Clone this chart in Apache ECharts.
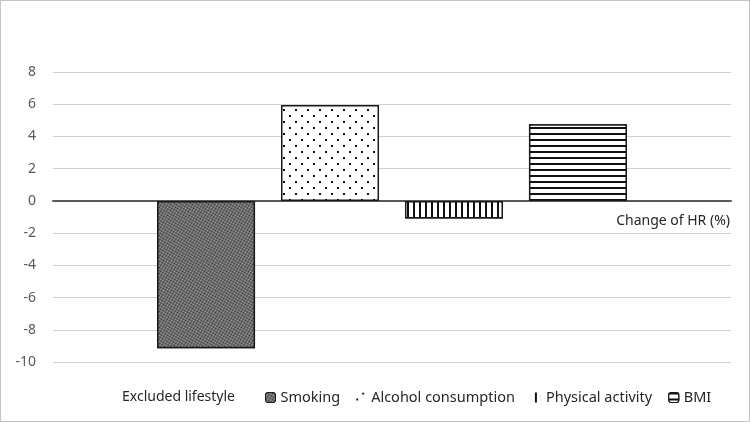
<!DOCTYPE html>
<html><head><meta charset="utf-8">
<script src="https://cdn.jsdelivr.net/npm/echarts@6/dist/echarts.min.js"></script>
<style>
html,body{margin:0;padding:0;background:#fff;}
#c{width:750px;height:422px;box-sizing:border-box;border:1.5px solid #c4c4c4;}
</style></head>
<body><div id="c"></div>
<script>
const categories = ['Change of HR (%)'];
const seriesNames = ['Smoking', 'Alcohol consumption', 'Physical activity', 'BMI'];
const smoking = [-9.15];
const alcohol = [5.95];
const physical = [-1.1];
const bmi = [4.75];
const yTicks = {min: -10, max: 8, interval: 2};
const legendTitle = 'Excluded lifestyle';

const font = "'Noto Sans',sans-serif";
const chart = echarts.init(document.getElementById('c'), null, {renderer: 'canvas'});
const border = {borderColor: '#1a1a1a', borderWidth: 1.5};
const decals = [
  {symbol: 'rect', symbolSize: 1, dashArrayX: [[1, 1], [0, 1, 1, 0]], dashArrayY: [1, 0], color: '#303030', backgroundColor: '#a8a8a8'},
  {symbol: 'rect', symbolSize: 1, dashArrayX: [[1.6, 9.2], [0, 5.4, 1.6, 3.8]], dashArrayY: [1.6, 3.8], color: '#111', backgroundColor: '#fff'},
  {symbol: 'rect', symbolSize: 1, dashArrayX: [1, 0], dashArrayY: [1.6, 3.8], rotation: Math.PI / 2, color: '#111', backgroundColor: '#fff'},
  {symbol: 'rect', symbolSize: 1, dashArrayX: [1, 0], dashArrayY: [1.6, 3.6], color: '#111', backgroundColor: '#fff'}
];
const fills = ['#6a6a6a', '#ffffff', '#ffffff', '#ffffff'];
const legendBorders = [1, 0, 0, 1.2];
const dataSets = [smoking, alcohol, physical, bmi];

chart.setOption({
  animation: false,
  aria: {enabled: true, decal: {show: true}},
  title: {text: legendTitle, left: 116, top: 384, textStyle: {fontFamily: font, fontSize: 14, fontWeight: 'normal', color: '#262626'}},
  legend: {
    data: seriesNames.map((n, i) => ({name: n, itemStyle: {borderWidth: legendBorders[i], borderColor: '#1a1a1a'}})),
    left: 259, top: 384,
    itemWidth: 10, itemHeight: 10, itemGap: 16,
    textStyle: {fontFamily: font, fontSize: 14.5, color: '#262626'}
  },
  grid: {left: 52, right: 18, top: 71, bottom: 59},
  xAxis: {
    type: 'category', data: categories,
    axisLine: {lineStyle: {color: '#595959', width: 2}},
    axisTick: {show: false}, axisLabel: {show: false},
    name: categories[0], nameLocation: 'end', nameGap: -1,
    nameTextStyle: {fontFamily: font, fontSize: 14, color: '#262626', align: 'right', verticalAlign: 'top', padding: [13, 0, 0, 0]}
  },
  yAxis: {
    type: 'value', min: yTicks.min, max: yTicks.max, interval: yTicks.interval,
    axisLine: {show: false}, axisTick: {show: false},
    axisLabel: {fontFamily: font, fontSize: 14, color: '#595959', margin: 17},
    splitLine: {lineStyle: {color: '#d0d0d0', width: 1.2}}
  },
  series: dataSets.map((d, i) => ({
    name: seriesNames[i], type: 'bar', data: d,
    barWidth: 98, barGap: '26.5%',
    itemStyle: Object.assign({color: fills[i], decal: decals[i]}, border)
  }))
});
</script></body></html>
